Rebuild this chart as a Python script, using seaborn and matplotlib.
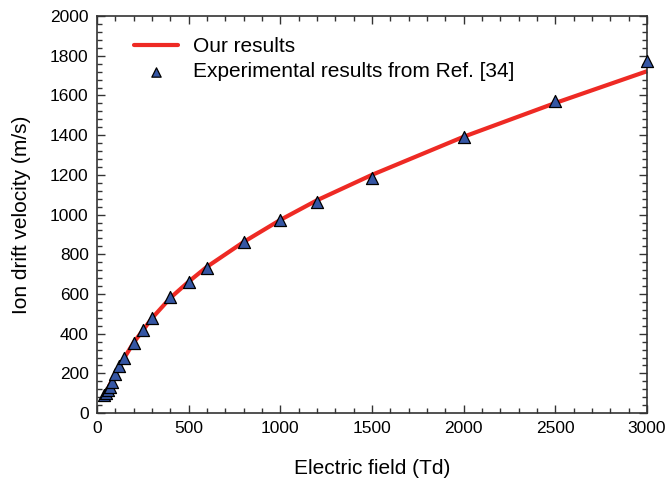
import matplotlib
matplotlib.use("Agg")
import matplotlib.pyplot as plt
from matplotlib.ticker import MultipleLocator
import seaborn as sns
import pandas as pd

# Model curve ("Our results")
field_model = [40, 50, 75, 100, 150, 200, 300, 400, 500, 600, 800, 1000, 1200, 1500, 2000, 2500, 3000]
velocity_model = [88, 105, 152, 200, 280, 355, 478, 580, 662, 737, 862, 973, 1072, 1200, 1392, 1562, 1722]

# Experimental points
field_exp = [40, 50, 60, 70, 80, 100, 120, 150, 200, 250, 300, 400, 500, 600, 800, 1000, 1200, 1500, 2000, 2500, 3000]
velocity_exp = [90, 102, 117, 133, 155, 195, 237, 280, 352, 420, 477, 587, 662, 732, 862, 973, 1063, 1185, 1392, 1574, 1776]

line_label = "Our results"
point_label = "Experimental results from Ref. [34]"

sns.set_style("ticks")
plt.rcParams["font.family"] = ["Liberation Sans", "DejaVu Sans"]
plt.rcParams["text.color"] = "black"
plt.rcParams["axes.labelcolor"] = "black"

df_model = pd.DataFrame({"E": field_model, "v": velocity_model})
df_exp = pd.DataFrame({"E": field_exp, "v": velocity_exp})

fig = plt.figure(figsize=(6.67, 4.86), dpi=100)
ax = fig.add_axes([0.1454, 0.150, 0.8246, 0.817])

sns.lineplot(data=df_model, x="E", y="v", ax=ax, color="#ee2a24", linewidth=3.0,
             label=line_label, zorder=2)
sns.scatterplot(data=df_exp, x="E", y="v", ax=ax, marker="^", s=75,
                color="#3556a4", edgecolor="black", linewidth=0.9,
                label=point_label, zorder=3, clip_on=False)

ax.set_xlim(0, 3000)
ax.set_ylim(0, 2000)
ax.xaxis.set_major_locator(MultipleLocator(500))
ax.xaxis.set_minor_locator(MultipleLocator(100))
ax.yaxis.set_major_locator(MultipleLocator(200))
ax.yaxis.set_minor_locator(MultipleLocator(40))

for s in ax.spines.values():
    s.set_visible(True)
    s.set_linewidth(1.2)
    s.set_color("#333333")

ax.tick_params(which="both", direction="in", top=True, right=True, color="#333333",
               width=1.0, labelcolor="black")
ax.tick_params(which="major", length=6, labelsize=12.5, pad=6)
ax.tick_params(which="minor", length=3.5)

ax.set_xlabel("Electric field (Td)", fontsize=15, labelpad=16, color="black")
ax.set_ylabel("Ion drift velocity (m/s)", fontsize=15, labelpad=14, color="black")

leg = ax.legend(loc="upper left", frameon=False, fontsize=15, handlelength=2.1,
                handletextpad=0.7, labelspacing=0.3, borderaxespad=0.6,
                bbox_to_anchor=(0.03, 1.0))
for t in leg.get_texts():
    t.set_color("black")
leg.legend_handles[1].set_sizes([45])

fig.savefig("out.png", dpi=100)
